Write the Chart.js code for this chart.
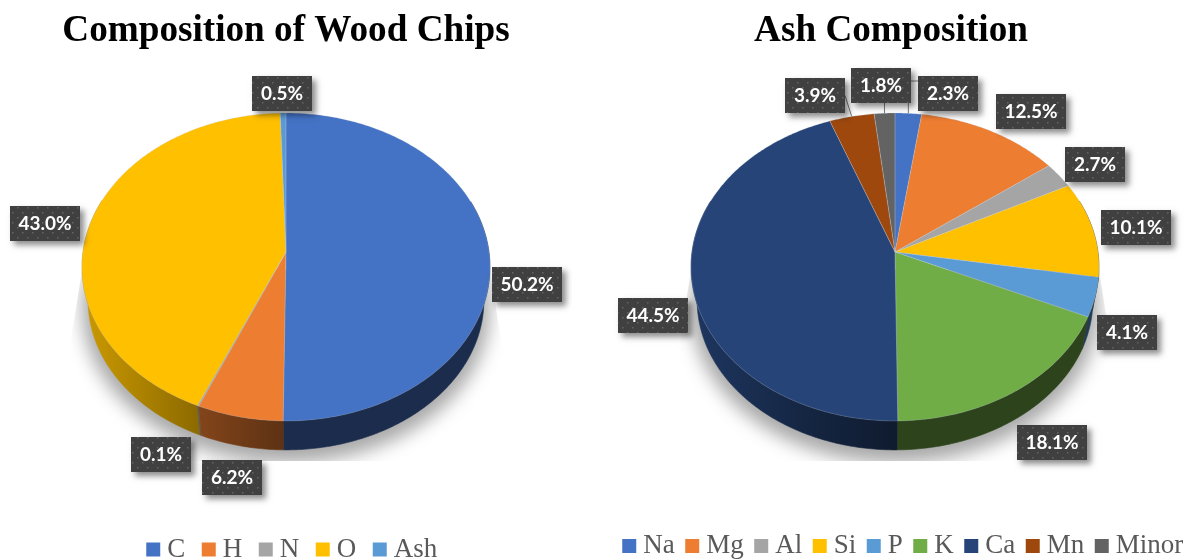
<!DOCTYPE html>
<html>
<head>
<meta charset="utf-8">
<script src="https://cdn.jsdelivr.net/npm/chart.js@4"></script>
<style>
html,body{margin:0;padding:0;background:#fff;width:1189px;height:560px;overflow:hidden}
.c{position:absolute;top:0;height:560px}
</style>
</head>
<body>
<div class="c" style="left:0;width:572px"><canvas id="wood"></canvas></div>
<div class="c" style="left:595px;width:592px"><canvas id="ash"></canvas></div>
<script>
const woodTitle = 'Composition of Wood Chips';
const woodCategories = ['C','H','N','O','Ash'];
const woodValues = [50.2,6.2,0.1,43.0,0.5];
const woodColors = ['#4472c4','#ed7d31','#a5a5a5','#ffc000','#5b9bd5'];
const woodLabelOffsets = [[241,32.5],[-54,225],[-125,202.5],[-241,-28.5],[-4,-158.5]];
const woodLeaders = [null,null,null,null,null];

const ashTitle = 'Ash Composition';
const ashCategories = ['Na','Mg','Al','Si','P','K','Ca','Mn','Minor'];
const ashValues = [2.3,12.5,2.7,10.1,4.1,18.1,44.5,3.9,1.8];
const ashColors = ['#4472c4','#ed7d31','#a5a5a5','#ffc000','#5b9bd5','#70ad47','#264478','#9e480e','#636363'];
const ashLabelOffsets = [[53,-158.5],[136,-140.5],[200,-87.5],[241,-24.5],[232,80.5],[157,190.5],[-242.5,63.5],[-80,-156.5],[-14.5,-166.5]];
const ashLeaders = ['elbow',null,null,null,null,null,null,'side','vertical'];

const K = 0.0974, A = 152.5, B = 203, S = 0.97, DY = 34;
function rgb(hex){return [1,3,5].map(i=>parseInt(hex.substr(i,2),16));}
function top3(p,a){const u=Math.cos(a),v=Math.sin(a),f=1/(1-K*v);return [p.x+B*u*f,p.y+A*v*f,v,u];}
function bot3(p,a){const t=top3(p,a);return [p.x+S*(t[0]-p.x),p.y+DY+S*(t[1]-p.y)];}
function wallGradient(ctx,p,c){
  const g=ctx.createLinearGradient(p.x-204,0,p.x+204,0);
  const col=s=>`rgb(${c.map(x=>Math.round(x*s)).join(',')})`;
  g.addColorStop(0,col(0.8));g.addColorStop(0.275,col(0.56));g.addColorStop(0.5,col(0.39));g.addColorStop(1,col(0.39));
  return g;
}
function dotPattern(ctx){
  const c=document.createElement('canvas');c.width=10;c.height=10;
  const g=c.getContext('2d');g.fillStyle='#404040';g.fillRect(0,0,10,10);
  g.fillStyle='#646464';g.fillRect(2,2,1.5,1.5);g.fillRect(7,7,1.5,1.5);
  return ctx.createPattern(c,'repeat');
}
const pie3d = {
  id:'pie3d',
  afterLayout(chart,args,o){
    const l=chart.legend;
    l.left+=o.legendDx;l.right+=o.legendDx;l.top=o.legendTop;l.bottom=o.legendTop+l.height;
  },
  beforeDatasetsDraw(chart,args,o){
    const ctx=chart.ctx,p={x:o.x,y:o.y},arcs=chart.getDatasetMeta(0).data,cols=chart.data.datasets[0].backgroundColor;
    // soft shadow
    ctx.save();
    ctx.beginPath();
    ctx.moveTo(p.x-204,p.y+18);ctx.lineTo(p.x-217,p.y+100);ctx.lineTo(p.x-217,p.y+209);
    ctx.lineTo(p.x+217,p.y+209);ctx.lineTo(p.x+217,p.y+100);ctx.lineTo(p.x+204,p.y+18);ctx.closePath();ctx.clip();
    ctx.filter='blur(9px)';ctx.fillStyle='rgba(0,0,0,0.34)';
    ctx.beginPath();
    for(let d=0;d<360;d+=3){const a=d*Math.PI/180,t=bot3(p,a),x=p.x+1.03*(t[0]-p.x),y=p.y+7+1.03*(t[1]-p.y);d?ctx.lineTo(x,y):ctx.moveTo(x,y);}
    ctx.closePath();ctx.fill();
    ctx.restore();
    // side walls
    const walls=[];
    arcs.forEach((arc,i)=>{
      const n=Math.max(2,Math.ceil((arc.endAngle-arc.startAngle)/0.012)),ang=[];
      for(let j=0;j<=n;j++){const a=arc.startAngle+(arc.endAngle-arc.startAngle)*j/n;if(Math.sin(a)>=-0.35)ang.push(a);}
      if(ang.length<2)return;
      walls.push({i,ang,v:Math.sin(ang[Math.floor(ang.length/2)])});
    });
    walls.sort((q,r)=>q.v-r.v).forEach(w=>{
      ctx.beginPath();
      w.ang.forEach((a,j)=>{const t=top3(p,a);j?ctx.lineTo(t[0],t[1]):ctx.moveTo(t[0],t[1]);});
      w.ang.slice().reverse().forEach(a=>{const b=bot3(p,a);ctx.lineTo(b[0],b[1]);});
      ctx.closePath();
      const g=wallGradient(ctx,p,rgb(cols[w.i]));
      ctx.fillStyle=g;ctx.strokeStyle=g;ctx.lineWidth=0.6;ctx.fill();ctx.stroke();
    });
    // top surface
    const trace=arc=>{
      const n=Math.max(2,Math.ceil((arc.endAngle-arc.startAngle)/0.012));
      ctx.beginPath();ctx.moveTo(p.x,p.y);
      for(let j=0;j<=n;j++){const t=top3(p,arc.startAngle+(arc.endAngle-arc.startAngle)*j/n);ctx.lineTo(t[0],t[1]);}
      ctx.closePath();
    };
    arcs.forEach((arc,i)=>{trace(arc);ctx.fillStyle=cols[i];ctx.fill();});
    ctx.lineJoin='round';
    arcs.forEach(arc=>{trace(arc);ctx.strokeStyle='rgba(190,200,215,0.25)';ctx.lineWidth=0.9;ctx.stroke();});
    // leaders
    const boxW=s=>s.length>4?70:60,boxH=35;
    ctx.strokeStyle='#7a7a7a';ctx.lineWidth=1;
    arcs.forEach((arc,i)=>{
      const kind=o.leaders[i];if(!kind)return;
      const r=top3(p,(arc.startAngle+arc.endAngle)/2),off=o.offsets[i],cx=p.x+off[0],cy=p.y+off[1];
      const w=boxW(o.values[i].toFixed(1)+'%');
      ctx.beginPath();ctx.moveTo(r[0],r[1]);
      if(kind==='elbow'){ctx.lineTo(r[0],cy-12.5);ctx.lineTo(cx,cy-12.5);}
      else if(kind==='side'){ctx.lineTo(cx+w/2,cy);}
      else{ctx.lineTo(r[0],cy);}
      ctx.stroke();
    });
    // labels
    const pat=dotPattern(ctx);
    arcs.forEach((arc,i)=>{
      const s=o.values[i].toFixed(1)+'%',w=boxW(s),off=o.offsets[i],cx=p.x+off[0],cy=p.y+off[1];
      const x0=Math.round(cx-w/2),y0=Math.round(cy-boxH/2);
      ctx.save();
      ctx.shadowColor='rgba(0,0,0,0.45)';ctx.shadowBlur=6;ctx.shadowOffsetX=4;ctx.shadowOffsetY=4;
      ctx.fillStyle='#404040';ctx.fillRect(x0,y0,w,boxH);
      ctx.restore();
      ctx.fillStyle=pat;ctx.fillRect(x0,y0,w,boxH);
      ctx.font='bold 19px Lato';ctx.textAlign='center';ctx.textBaseline='middle';ctx.fillStyle='#fff';
      ctx.fillText(s,x0+w/2,y0+boxH/2+0.5);
    });
    return false;
  }
};
function build(id,title,cats,vals,cols,offs,leaders,pie,legendPad,legendDx,legendTop){
  return new Chart(document.getElementById(id),{
    type:'pie',
    data:{labels:cats,datasets:[{data:vals,backgroundColor:cols,borderWidth:0}]},
    plugins:[pie3d],
    options:{
      responsive:true,maintainAspectRatio:false,animation:false,
      layout:{padding:0},
      plugins:{
        tooltip:{enabled:false},
        title:{display:true,text:title,color:'#000',font:{family:'"Liberation Serif"',size:37.2,weight:'bold'},padding:{top:9,bottom:6}},
        legend:{position:'bottom',labels:{usePointStyle:true,pointStyle:'rect',boxWidth:1,boxHeight:14,padding:legendPad,color:'#595959',font:{family:'"Liberation Serif"',size:27}}},
        pie3d:{x:pie[0],y:pie[1],offsets:offs,leaders:leaders,values:vals,legendDx:legendDx,legendTop:legendTop}
      }
    }
  });
}
build('wood',woodTitle,woodCategories,woodValues,woodColors,woodLabelOffsets,woodLeaders,[286,252],23,9,513);
build('ash',ashTitle,ashCategories,ashValues,ashColors,ashLabelOffsets,ashLeaders,[300,252],17,15,515.5);
</script>
</body>
</html>
